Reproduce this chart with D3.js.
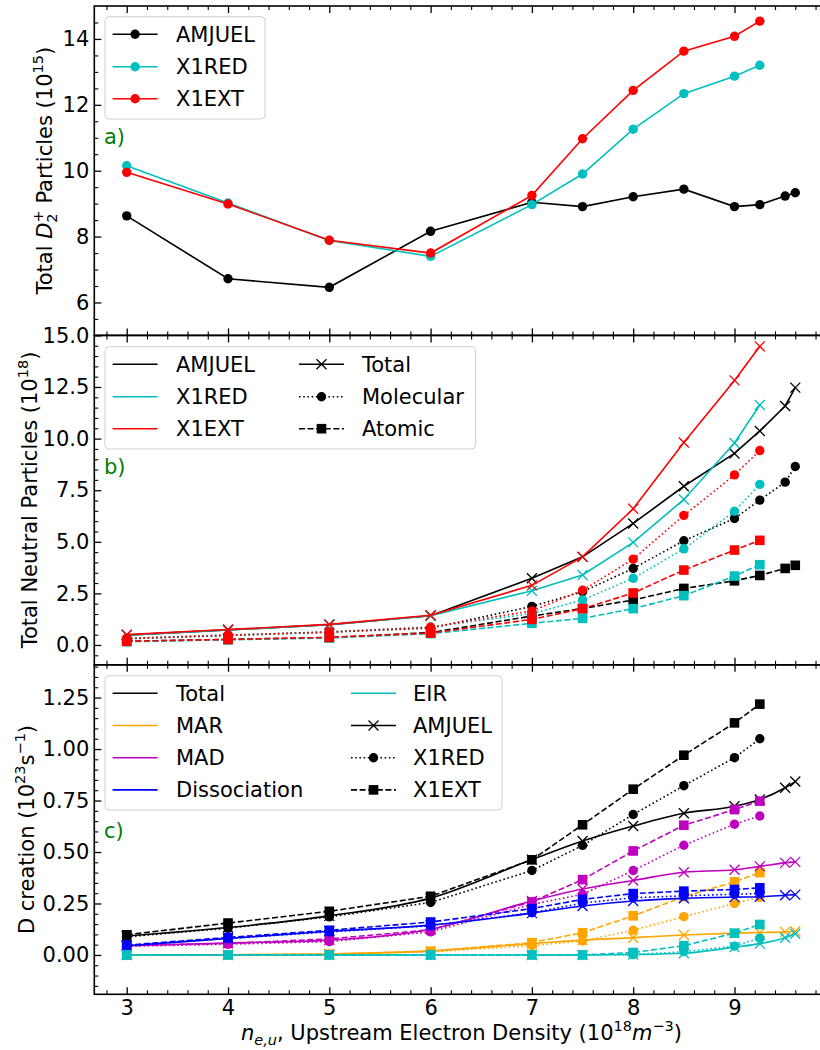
<!DOCTYPE html>
<html><head><meta charset="utf-8">
<script src="https://cdn.jsdelivr.net/npm/d3@7"></script>
<style>
body{margin:0;background:#fff;}
text{font-family:"DejaVu Sans",sans-serif;}
</style></head>
<body>
<svg id="chart" width="820" height="1050"></svg>
<script>
// ---------- data ----------
const xAMJUEL = [3,4,5,6,7,7.5,8,8.5,9,9.25,9.5,9.6];
const xX1 = [3,4,5,6,7,7.5,8,8.5,9,9.25];

// panel a: total D2+ particles (1e15)
const d2AMJUEL = [8.63,6.72,6.46,8.16,9.04,8.91,9.21,9.44,8.91,8.97,9.23,9.33];
const d2X1RED  = [10.15,9.02,7.88,7.40,8.97,9.90,11.26,12.34,12.87,13.20];
const d2X1EXT  = [9.95,8.99,7.89,7.50,9.25,10.97,12.44,13.63,14.08,14.54];

// panel b: neutral particles (1e18)
const totAMJUEL = [0.48,0.73,0.98,1.42,3.23,4.27,5.89,7.69,9.28,10.37,11.58,12.47];
const molAMJUEL = [0.30,0.46,0.62,0.82,1.87,2.58,3.71,5.05,6.13,7.02,7.89,8.65];
const atmAMJUEL = [0.18,0.27,0.36,0.60,1.40,1.77,2.18,2.74,3.11,3.37,3.71,3.86];
const totX1RED  = [0.48,0.73,0.98,1.42,2.63,3.39,4.97,7.05,9.79,11.63];
const molX1RED  = [0.32,0.48,0.64,0.87,1.52,2.18,3.23,4.66,6.48,7.78];
const atmX1RED  = [0.16,0.25,0.34,0.55,1.05,1.29,1.76,2.39,3.34,3.89];
const totX1EXT  = [0.50,0.75,1.00,1.44,2.89,4.27,6.60,9.81,12.82,14.47];
const molX1EXT  = [0.32,0.48,0.63,0.86,1.65,2.65,4.16,6.28,8.24,9.42];
const atmX1EXT  = [0.18,0.27,0.37,0.58,1.24,1.76,2.52,3.63,4.60,5.07];

// panel c: D creation (1e23 /s)
const cTotAMJUEL = [0.092,0.133,0.190,0.276,0.463,0.553,0.626,0.688,0.722,0.755,0.812,0.842];
const cMarAMJUEL = [0.000,0.001,0.005,0.020,0.055,0.072,0.084,0.097,0.106,0.109,0.112,0.115];
const cMadAMJUEL = [0.045,0.058,0.072,0.125,0.262,0.320,0.362,0.402,0.414,0.430,0.447,0.452];
const cDisAMJUEL = [0.045,0.080,0.115,0.145,0.203,0.238,0.262,0.275,0.281,0.283,0.290,0.293];
const cEirAMJUEL = [0,0,0,0,0,0,0.002,0.008,0.038,0.055,0.084,0.103];

const cTotX1RED = [0.088,0.130,0.185,0.255,0.410,0.532,0.682,0.822,0.958,1.050];
const cMarX1RED = [0,0,0.003,0.015,0.045,0.068,0.120,0.186,0.250,0.280];
const cMadX1RED = [0.042,0.052,0.065,0.112,0.245,0.295,0.410,0.533,0.635,0.675];
const cDisX1RED = [0.045,0.080,0.112,0.142,0.205,0.252,0.278,0.287,0.295,0.298];
const cEirX1RED = [0,0,0,0,0,0,0.002,0.016,0.043,0.082];

const cTotX1EXT = [0.098,0.155,0.212,0.285,0.462,0.632,0.805,0.970,1.127,1.218];
const cMarX1EXT = [0,0.001,0.004,0.018,0.060,0.108,0.190,0.283,0.355,0.400];
const cMadX1EXT = [0.045,0.056,0.078,0.122,0.258,0.366,0.505,0.630,0.706,0.747];
const cDisX1EXT = [0.048,0.085,0.120,0.160,0.225,0.270,0.298,0.310,0.318,0.326];
const cEirX1EXT = [0,0,0,0,0,0,0.012,0.045,0.106,0.148];

const xTicks = [3,4,5,6,7,8,9];
const aTicks = [6,8,10,12,14];
const bTicks = [0,2.5,5,7.5,10,12.5,15];
const cTicks = [0,0.25,0.5,0.75,1.0,1.25];

// ---------- styling ----------
const COL = {k:"#000000", c:"#00BFBF", r:"#FF0000", orange:"#FFA500", m:"#BF00BF", b:"#0000FF", g:"#008000"};
const LW = 1.6;
const DASH = {solid:null, dotted:"1.6,2.6", dashed:"6,2.6"};
const FS = 21;

const svg = d3.select("#chart");
svg.append("rect").attr("width",820).attr("height",1050).attr("fill","#fff");

const L = 94.3, R = 828.7;
const x = d3.scaleLinear().domain([2.68, 9.93]).range([L, R]);

const panels = [
  {top:6, bot:335.4, dom:[5,15], ticks:aTicks, minorStep:0.5, fmt:d3.format("d")},
  {top:335.4, bot:664.8, dom:[-0.96,15.0], ticks:bTicks, minorStep:0.5, fmt:d3.format(".1f")},
  {top:664.8, bot:994.3, dom:[-0.191,1.409], ticks:cTicks, minorStep:0.05, fmt:d3.format(".2f")}
];
panels.forEach(p => { p.y = d3.scaleLinear().domain(p.dom).range([p.bot, p.top]); });

function minorVals(dom, step, majors){
  const out = [];
  const s = Math.ceil(dom[0]/step - 1e-9);
  for(let i=s; i*step <= dom[1]+1e-9; i++){
    const v = +(i*step).toFixed(6);
    if (v<=dom[0]+1e-6 || v>=dom[1]-1e-6) continue;
    if (majors.some(m=>Math.abs(m-v)<1e-6)) continue;
    out.push(v);
  }
  return out;
}
const xMinor = minorVals(x.domain(), 0.2, xTicks);

function drawMarker(g, m, cx, cy, color){
  if(m==="o") g.append("circle").attr("cx",cx).attr("cy",cy).attr("r",4.7).attr("fill",color);
  else if(m==="s") g.append("rect").attr("x",cx-4.8).attr("y",cy-4.8).attr("width",9.6).attr("height",9.6).attr("fill",color);
  else if(m==="x") g.append("path").attr("d",`M${cx-5},${cy-5}L${cx+5},${cy+5}M${cx-5},${cy+5}L${cx+5},${cy-5}`)
      .attr("stroke",color).attr("stroke-width",1.3).attr("fill","none");
}

function series(g, yScale, xs, ys, color, dash, marker, curve){
  const pts = xs.map((v,i)=>[x(v), yScale(ys[i])]);
  const line = d3.line().curve(curve || d3.curveLinear);
  g.append("path").attr("d", line(pts)).attr("fill","none").attr("stroke",color)
    .attr("stroke-width",LW).attr("stroke-dasharray",DASH[dash]);
  if(marker) pts.forEach(p=>drawMarker(g, marker, p[0], p[1], color));
}

// clip
const defs = svg.append("defs");
panels.forEach((p,i)=>{
  defs.append("clipPath").attr("id","clip"+i).append("rect")
    .attr("x",L).attr("y",p.top).attr("width",R-L).attr("height",p.bot-p.top);
});

// axes
panels.forEach((p,i)=>{
  const g = svg.append("g");
  // left major
  g.append("g").attr("transform",`translate(${L},0)`)
    .call(d3.axisLeft(p.y).tickValues(p.ticks).tickFormat(p.fmt).tickSize(-7).tickPadding(5))
    .call(s=>{s.select(".domain").remove(); s.selectAll("text").attr("font-size",FS).attr("font-family","DejaVu Sans").attr("fill","#000");
      s.selectAll("line").attr("stroke-width",1.3);});
  g.append("g").attr("transform",`translate(${L},0)`)
    .call(d3.axisLeft(p.y).tickValues(minorVals(p.dom,p.minorStep,p.ticks)).tickFormat("").tickSize(-4))
    .call(s=>{s.select(".domain").remove(); s.selectAll("line").attr("stroke-width",1.1);});
  // top ticks
  g.append("g").attr("transform",`translate(0,${p.top})`)
    .call(d3.axisTop(x).tickValues(xTicks).tickFormat("").tickSize(-7))
    .call(s=>{s.select(".domain").remove(); s.selectAll("line").attr("stroke-width",1.3);});
  g.append("g").attr("transform",`translate(0,${p.top})`)
    .call(d3.axisTop(x).tickValues(xMinor).tickFormat("").tickSize(-4))
    .call(s=>{s.select(".domain").remove(); s.selectAll("line").attr("stroke-width",1.1);});
  // bottom ticks
  g.append("g").attr("transform",`translate(0,${p.bot})`)
    .call(d3.axisBottom(x).tickValues(xTicks).tickFormat(i===2? d3.format("d") : "").tickSize(-7).tickPadding(6))
    .call(s=>{s.select(".domain").remove(); s.selectAll("text").attr("font-size",FS).attr("font-family","DejaVu Sans").attr("fill","#000");
      s.selectAll("line").attr("stroke-width",1.3);});
  g.append("g").attr("transform",`translate(0,${p.bot})`)
    .call(d3.axisBottom(x).tickValues(xMinor).tickFormat("").tickSize(-4))
    .call(s=>{s.select(".domain").remove(); s.selectAll("line").attr("stroke-width",1.1);});
  p.g = svg.append("g").attr("clip-path",`url(#clip${i})`);
});

// ---- panel a data ----
{
  const p = panels[0], g = p.g;
  series(g, p.y, xAMJUEL, d2AMJUEL, COL.k, "solid", "o");
  series(g, p.y, xX1, d2X1RED, COL.c, "solid", "o");
  series(g, p.y, xX1, d2X1EXT, COL.r, "solid", "o");
}
// ---- panel b data ----
{
  const p = panels[1], g = p.g;
  const sets = [
    [xAMJUEL, totAMJUEL, molAMJUEL, atmAMJUEL, COL.k],
    [xX1, totX1RED, molX1RED, atmX1RED, COL.c],
    [xX1, totX1EXT, molX1EXT, atmX1EXT, COL.r]
  ];
  sets.forEach(s=>{
    series(g, p.y, s[0], s[1], s[4], "solid", "x");
    series(g, p.y, s[0], s[2], s[4], "dotted", "o");
    series(g, p.y, s[0], s[3], s[4], "dashed", "s");
  });
}
// ---- panel c data ----
{
  const p = panels[2], g = p.g;
  const proc = [
    [cTotAMJUEL, cTotX1RED, cTotX1EXT, COL.k],
    [cMarAMJUEL, cMarX1RED, cMarX1EXT, COL.orange],
    [cMadAMJUEL, cMadX1RED, cMadX1EXT, COL.m],
    [cDisAMJUEL, cDisX1RED, cDisX1EXT, COL.b],
    [cEirAMJUEL, cEirX1RED, cEirX1EXT, COL.c]
  ];
  proc.forEach(pr=>{
    series(g, p.y, xAMJUEL, pr[0], pr[3], "solid", "x", d3.curveMonotoneX);
    series(g, p.y, xX1, pr[1], pr[3], "dotted", "o");
    series(g, p.y, xX1, pr[2], pr[3], "dashed", "s");
  });
}

// spines
panels.forEach(p=>{
  svg.append("rect").attr("x",L).attr("y",p.top).attr("width",R-L).attr("height",p.bot-p.top)
    .attr("fill","none").attr("stroke","#000").attr("stroke-width",1.6);
});

// panel letters
[["a)",136.7],["b)",466.7],["c)",830]].forEach(d=>{
  svg.append("text").attr("x",104).attr("y",d[1]).attr("dy","0.36em").attr("font-size",FS)
    .attr("fill",COL.g).text(d[0]);
});

// legends
function legend(box, rows){
  svg.append("rect").attr("x",box[0]).attr("y",box[1]).attr("width",box[2]-box[0]).attr("height",box[3]-box[1])
    .attr("rx",4).attr("fill","#fff").attr("fill-opacity",0.8).attr("stroke","#d0d0d0").attr("stroke-width",1);
  rows.forEach(r=>{
    const [hx, ty, tx, label, color, dash, marker] = r;
    const g = svg.append("g");
    g.append("path").attr("d",`M${hx},${ty}L${hx+45},${ty}`).attr("stroke",color).attr("stroke-width",LW)
      .attr("stroke-dasharray",DASH[dash]).attr("fill","none");
    if(marker) drawMarker(g, marker, hx+22.5, ty, color);
    svg.append("text").attr("x",tx).attr("y",ty).attr("dy","0.36em").attr("font-size",FS).attr("fill","#000").text(label);
  });
}
legend([105,16.7,265,119],[
  [112.6,34.3,176,"AMJUEL",COL.k,"solid","o"],
  [112.6,66.7,176,"X1RED",COL.c,"solid","o"],
  [112.6,98.7,176,"X1EXT",COL.r,"solid","o"]
]);
legend([105,346.7,475.5,449],[
  [112.6,364.3,176,"AMJUEL",COL.k,"solid",null],
  [112.6,396.7,176,"X1RED",COL.c,"solid",null],
  [112.6,428.7,176,"X1EXT",COL.r,"solid",null],
  [299,364.3,362,"Total",COL.k,"solid","x"],
  [299,396.7,362,"Molecular",COL.k,"dotted","o"],
  [299,428.7,362,"Atomic",COL.k,"dashed","s"]
]);
legend([105,675.7,502,810],[
  [112.6,693.3,176,"Total",COL.k,"solid",null],
  [112.6,725.5,176,"MAR",COL.orange,"solid",null],
  [112.6,757.7,176,"MAD",COL.m,"solid",null],
  [112.6,789.9,176,"Dissociation",COL.b,"solid",null],
  [351,693.3,413,"EIR",COL.c,"solid",null],
  [351,725.5,413,"AMJUEL",COL.k,"solid","x"],
  [351,757.7,413,"X1RED",COL.k,"dotted","o"],
  [351,789.9,413,"X1EXT",COL.k,"dashed","s"]
]);

// y labels
function ylabel(cx, cy, parts){
  const t = svg.append("text").attr("transform",`translate(${cx},${cy}) rotate(-90)`)
    .attr("text-anchor","middle").attr("font-size",FS).attr("fill","#000");
  parts.forEach(pt=>{
    const ts = t.append("tspan").text(pt.t);
    if(pt.dy) ts.attr("dy",pt.dy);
    if(pt.dx) ts.attr("dx",pt.dx);
    if(pt.fs) ts.attr("font-size",pt.fs);
    if(pt.it) ts.attr("font-style","italic");
  });
}
ylabel(52, 170.7, [
  {t:"Total "},{t:"D",it:true},{t:"2",fs:14.5,dy:5},{t:"+",fs:14.5,dx:-9,dy:-14},{t:" Particles (10",dy:9},
  {t:"15",fs:14.5,dy:-9},{t:")",dy:9}
]);
ylabel(37, 500, [
  {t:"Total Neutral Particles (10"},{t:"18",fs:14.5,dy:-9},{t:")",dy:9}
]);
ylabel(34, 829.5, [
  {t:"D creation (10"},{t:"23",fs:14.5,dy:-9},{t:"s",dy:9},{t:"−1",fs:14.5,dy:-9},{t:")",dy:9}
]);

// x label
{
  const t = svg.append("text").attr("x",(L+R)/2).attr("y",1040).attr("text-anchor","middle")
    .attr("font-size",FS).attr("fill","#000");
  t.append("tspan").attr("font-style","italic").text("n");
  t.append("tspan").attr("font-style","italic").attr("font-size",14.5).attr("dy",5).text("e,u");
  t.append("tspan").attr("dy",-5).text(", Upstream Electron Density (10");
  t.append("tspan").attr("font-size",14.5).attr("dy",-9).text("18");
  t.append("tspan").attr("font-style","italic").attr("dy",9).text("m");
  t.append("tspan").attr("font-size",14.5).attr("dy",-9).text("−3");
  t.append("tspan").attr("dy",9).text(")");
}
</script>
</body></html>
